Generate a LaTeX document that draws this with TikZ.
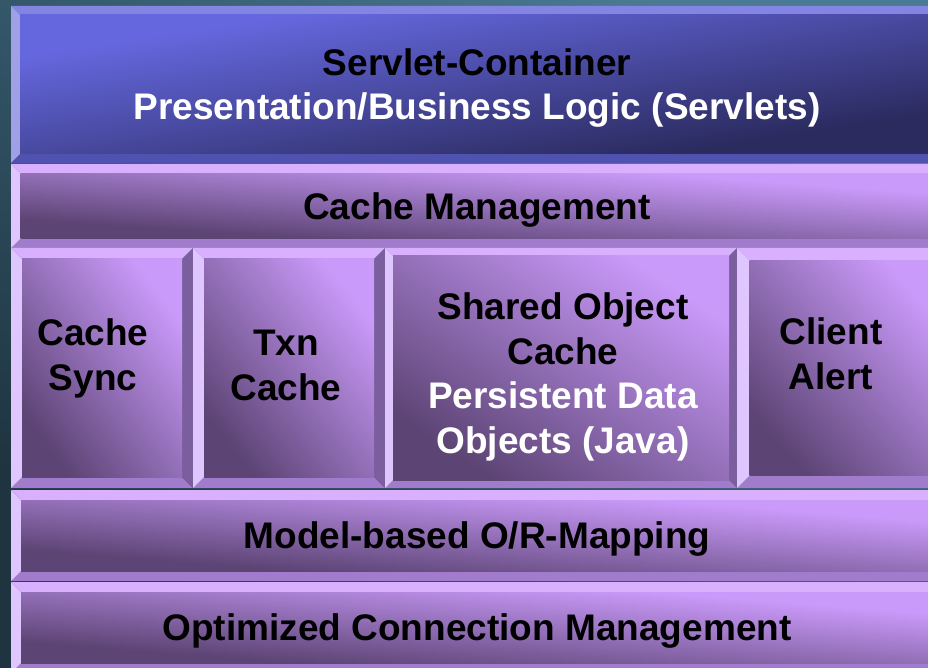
\documentclass[tikz,border=0pt]{standalone}
\usepackage{fontspec}
\setmainfont{Liberation Sans}

\definecolor{bgLight}{HTML}{4A7A94}
\definecolor{bgDark}{HTML}{1E3440}
% blue layer
\definecolor{blTop}{HTML}{8484E2}
\definecolor{blLeft}{HTML}{A0A0E6}
\definecolor{blRight}{HTML}{34347A}
\definecolor{blBottom}{HTML}{5052B0}
\definecolor{blFaceLight}{HTML}{6567DE}
\definecolor{blFaceDark}{HTML}{2B2B60}
% purple layers
\definecolor{puTop}{HTML}{D8B0FE}
\definecolor{puLeft}{HTML}{E0C6FF}
\definecolor{puRight}{HTML}{7A5E9E}
\definecolor{puBottom}{HTML}{A27CCC}
\definecolor{puFaceLight}{HTML}{CA9AFA}
\definecolor{puFaceDark}{HTML}{5C4474}

% diagonal gradient stretched over a rectangle: x1 y1 x2 y2 light dark angle
\newcommand\diagface[7]{%
  \begin{scope}[transform canvas={shift={(#1pt,-#4pt)}, xscale={#3-#1}, yscale={#4-#2}}]
    \shade[top color=#5, bottom color=#6, shading angle=#7] (0pt,0pt) rectangle (1pt,1pt);
  \end{scope}}

% bevelled block: x1 y1 x2 y2 bevel colour-prefix angle
\newcommand\bevelblock[7]{%
  \fill[#6Top] (#1,#2) -- (#3,#2) -- ({#3-#5},{#2+#5}) -- ({#1+#5},{#2+#5}) -- cycle;
  \fill[#6Bottom] (#1,#4) -- (#3,#4) -- ({#3-#5},{#4-#5}) -- ({#1+#5},{#4-#5}) -- cycle;
  \fill[#6Left] (#1,#2) -- ({#1+#5},{#2+#5}) -- ({#1+#5},{#4-#5}) -- (#1,#4) -- cycle;
  \fill[#6Right] (#3,#2) -- ({#3-#5},{#2+#5}) -- ({#3-#5},{#4-#5}) -- (#3,#4) -- cycle;
  \pgfmathsetmacro\fxa{#1+#5}\pgfmathsetmacro\fya{#2+#5}%
  \pgfmathsetmacro\fxb{#3-#5}\pgfmathsetmacro\fyb{#4-#5}%
  \diagface{\fxa}{\fya}{\fxb}{\fyb}{#6FaceLight}{#6FaceDark}{#7}}

\begin{document}
\begin{tikzpicture}[x=1pt,y=-1pt,
  layertext/.style={font=\bfseries\fontsize{37}{44.5}\selectfont,
    align=center, anchor=base, inner sep=0pt, text=black}]
\useasboundingbox (0,0) rectangle (928,668);
\clip (0,0) rectangle (928,668);

% backdrop
\diagface{0}{0}{928}{668}{bgLight}{bgDark}{-45}

% servlet container
\bevelblock{11}{6}{943}{163}{9}{bl}{45}
% cache management
\bevelblock{11}{164}{943}{248}{9.5}{pu}{-45}
% middle row
\bevelblock{11}{248}{193}{488}{11}{pu}{-45}
\bevelblock{193}{248}{385}{488}{11}{pu}{-45}
\bevelblock{385}{248}{737}{488}{8}{pu}{-45}
\bevelblock{737}{248}{955}{488}{12.5}{pu}{-45}
% mapping and connection layers
\bevelblock{11}{490}{943}{581}{10}{pu}{-45}
\bevelblock{11}{582}{943}{673}{10}{pu}{-45}

% labels (anchored on the baseline of their last line)
\node[layertext] (servlet) at (477,120)
  {Servlet-Container\\\textcolor{white}{Presentation/Business Logic (Servlets)}};
\node[layertext] (cachemgmt) at (477,220) {Cache Management};
\node[layertext] (cachesync) at (93,390) {Cache\\Sync};
\node[layertext] (txncache) at (286,400) {Txn\\Cache};
\node[layertext] (shared) at (563,453)
  {Shared Object\\Cache\\\textcolor{white}{Persistent Data}\\\textcolor{white}{Objects (Java)}};
\node[layertext] (alert) at (831,389) {Client\\Alert};
\node[layertext] (mapping) at (477,548) {Model-based O/R-Mapping};
\node[layertext] (connmgmt) at (477,640) {Optimized Connection Management};
\end{tikzpicture}
\end{document}
